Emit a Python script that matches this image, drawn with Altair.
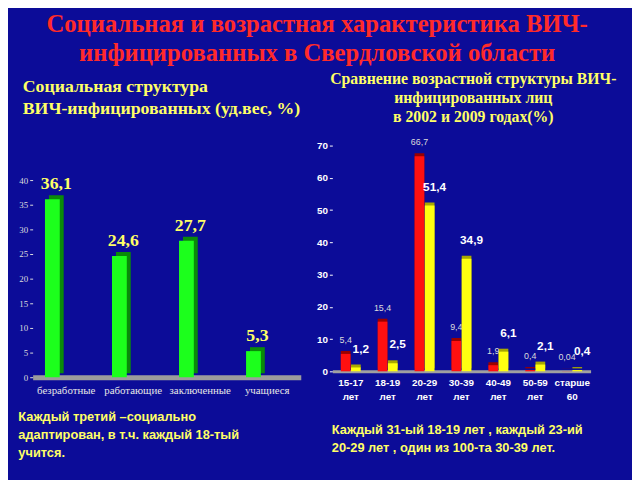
import altair as alt
import pandas as pd

# ---- data ----
social_cats = ["безработные", "работающие", "заключенные", "учащиеся"]
social_vals = [36.1, 24.6, 27.7, 5.3]

age_cats = ["15-17 лет", "18-19 лет", "20-29 лет", "30-39 лет", "40-49 лет", "50-59 лет", "старше 60"]
years = ["2002", "2009"]
vals_2002 = [5.4, 15.4, 66.7, 9.4, 1.9, 0.4, 0.04]
vals_2009 = [1.2, 2.5, 51.4, 34.9, 6.1, 2.1, 0.4]

title_lines = ["Социальная и возрастная характеристика ВИЧ-", "инфицированных в Свердловской области"]
left_title = ["Социальная структура", "ВИЧ-инфицированных (уд.вес, %)"]
right_title = ["Сравнение возрастной структуры ВИЧ-", "инфицированных лиц", "в 2002 и 2009 годах(%)"]
left_note = ["Каждый третий –социально", "адаптирован, в т.ч. каждый 18-тый", "учится."]
right_note = ["Каждый 31-ый 18-19 лет , каждый 23-ий", "20-29 лет , один из 100-та 30-39 лет."]

def fmt(v):
    return str(v).replace(".", ",")

soc = pd.DataFrame({"cat": social_cats, "val": social_vals,
                    "lab": [fmt(v) for v in social_vals]})

rows = []
for c, a, b in zip(age_cats, vals_2002, vals_2009):
    rows.append({"age": c, "year": years[0], "val": a, "lab": fmt(a)})
    rows.append({"age": c, "year": years[1], "val": b, "lab": fmt(b)})
age = pd.DataFrame(rows)

BG = "#0c0c98"
YEL = "#ffff66"
SERIF = "Liberation Serif"
SANS = "Liberation Sans"

# ---- left chart ----
lx = alt.X("cat:N", sort=social_cats,
           scale=alt.Scale(paddingInner=0, paddingOuter=0),
           axis=alt.Axis(title=left_note, labelAngle=0, labelFont=SERIF, labelFontSize=11,
                         labelColor="#e6e6e6", labelPadding=8, ticks=False,
                         domainColor="#9c9c9c", domainWidth=5,
                         titleFont=SANS, titleFontSize=13, titleFontWeight="bold",
                         titleColor=YEL, titleAnchor="start", titleAlign="left",
                         titleBaseline="top", titleX=-15, titleY=34, titleLineHeight=18))
ly = alt.Y("val:Q", scale=alt.Scale(domain=[0, 47], nice=False),
           axis=alt.Axis(title=None, values=list(range(0, 41, 5)), labelFont=SERIF,
                         labelFontSize=9, labelColor="#dddddd", tickColor="#dddddd",
                         tickSize=3, domain=False, grid=False))

lbase = alt.Chart(soc)
l_side = lbase.mark_bar(size=15, color="#0a8a0a", xOffset=-10, yOffset=-4).encode(x=lx, y=ly)
l_front = lbase.mark_bar(size=15, color="#1cff1c", xOffset=-14).encode(x=lx, y=ly)
l_text = lbase.mark_text(font=SERIF, fontSize=18, fontWeight="bold", color=YEL,
                         dx=-10, dy=-6, baseline="bottom").encode(x=lx, y=ly, text="lab:N")

left = alt.layer(l_side, l_front, l_text).properties(
    width=272, height=235,
    title=alt.TitleParams(left_title, anchor="start", align="left", dx=5,
                          font=SERIF, fontSize=18, fontWeight="bold", color=YEL,
                          lineHeight=22, offset=28))

# ---- right chart ----
rx = alt.X("age:N", sort=age_cats,
           scale=alt.Scale(paddingInner=0.46, paddingOuter=0.23),
           axis=alt.Axis(title=right_note, labelAngle=0, labelFont=SANS, labelFontSize=10,
                         labelFontWeight="bold", labelColor="#ffffff", labelPadding=6,
                         labelExpr="split(datum.value, ' ')", labelLineHeight=15,
                         ticks=False, domainColor="#a0a0a0", domainWidth=3,
                         titleFont=SANS, titleFontSize=13, titleFontWeight="bold",
                         titleColor=YEL, titleAnchor="start", titleAlign="left",
                         titleBaseline="top", titleX=-1, titleY=53, titleLineHeight=18))
ry = alt.Y("val:Q", scale=alt.Scale(domain=[0, 70]),
           axis=alt.Axis(title=None, values=list(range(0, 71, 10)), labelFont=SANS,
                         labelFontSize=10, labelFontWeight="bold", labelColor="#ffffff",
                         tickColor="#ffffff", tickSize=3, domain=False, grid=False))
roff = alt.XOffset("year:N", sort=years, scale=alt.Scale(paddingInner=0.05))

rbase = alt.Chart(age)
r_side = rbase.mark_bar(xOffset=3, yOffset=-3).encode(
    x=rx, xOffset=roff, y=ry,
    color=alt.Color("year:N", scale=alt.Scale(domain=years, range=["#9a0000", "#a8a800"]), legend=None))
r_front = rbase.mark_bar().encode(
    x=rx, xOffset=roff, y=ry,
    color=alt.Color("year:N", scale=alt.Scale(domain=years, range=["#ff1010", "#ffff10"]), legend=None))
r_t1 = rbase.transform_filter(alt.datum.year == "2002").mark_text(
    font=SANS, fontSize=9, color="#dcdcdc", dy=-14, baseline="middle").encode(
    x=rx, xOffset=roff, y=ry, text="lab:N")
r_t2 = rbase.transform_filter(alt.datum.year == "2009").mark_text(
    font=SANS, fontSize=12, fontWeight="bold", color="#ffffff", dx=5, dy=-19,
    baseline="middle").encode(x=rx, xOffset=roff, y=ry, text="lab:N")

right = alt.layer(r_side, r_front, r_t1, r_t2).resolve_scale(color="independent").properties(
    width=262, height=229,
    title=alt.TitleParams(right_title, anchor="middle", dx=12,
                          font=SERIF, fontSize=16, fontWeight="bold", color=YEL,
                          lineHeight=19, offset=14))

chart = alt.hconcat(left, right, spacing=15).properties(
    background=BG, padding={"left": 10, "right": 15, "top": 0, "bottom": 40},
    title=alt.TitleParams(title_lines, anchor="middle", font=SERIF, fontSize=25,
                          fontWeight="bold", color="#ff2a2a", lineHeight=29, offset=6)
).configure_view(stroke=None).configure_concat(spacing=15)

chart.save("out.html", embed_options={"renderer": "svg", "actions": False})
